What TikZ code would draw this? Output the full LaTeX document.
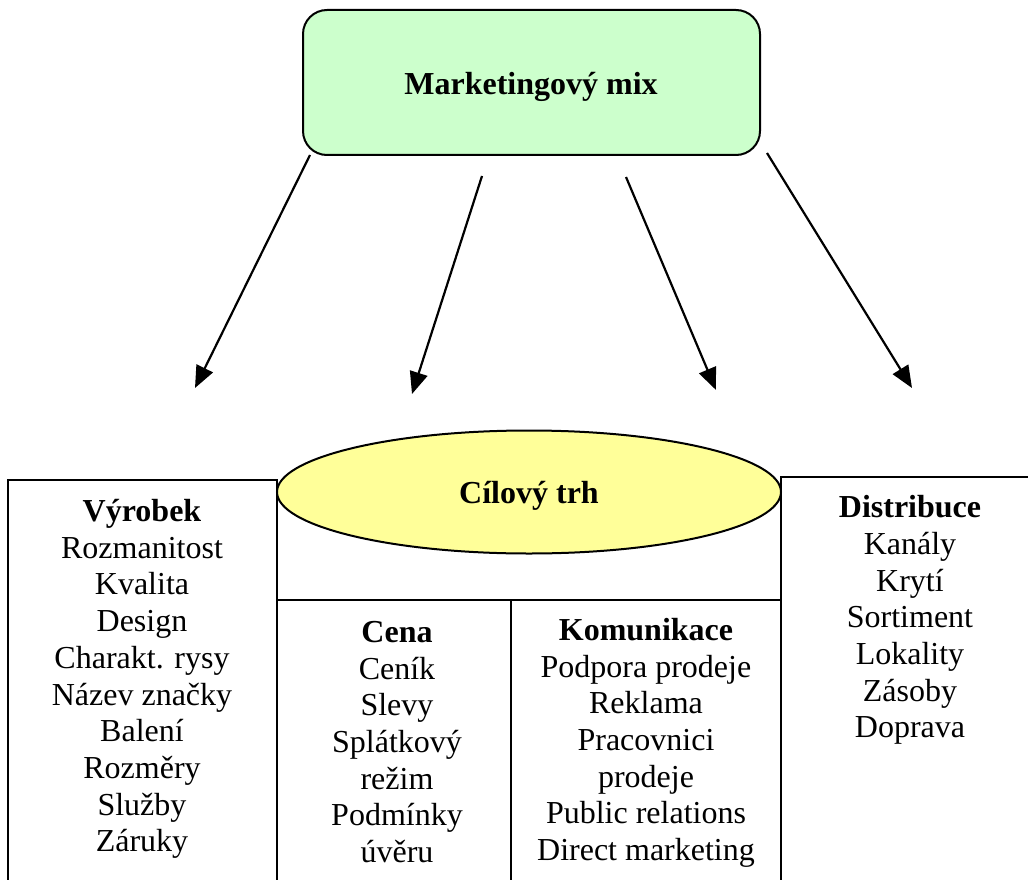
\documentclass[tikz,border=0pt]{standalone}
\usepackage{fontspec}
\setmainfont{Liberation Serif}
\usetikzlibrary{arrows.meta,shapes.geometric}
\definecolor{boxgreen}{HTML}{CCFFCC}
\definecolor{ellyellow}{HTML}{FFFF99}
\begin{document}
\begin{tikzpicture}[x=1pt,y=-1pt,
  frame/.style={line width=2pt,black},
  arr/.style={line width=2.2pt,-{Triangle[length=22pt,width=18pt]}},
  coltext/.style={align=center,inner sep=0pt,font=\fontsize{32}{36.67}\selectfont},
  title/.style={inner sep=0pt,font=\fontsize{32}{36.67}\selectfont\bfseries}]
\useasboundingbox (0,0) rectangle (1028,880);
% frames
\draw[frame] (8,882) -- (8,480) -- (277,480) -- (277,882);
\draw[frame] (781,882) -- (781,477) -- (1030,477);
\draw[frame] (277,600) -- (781,600);
\draw[frame] (511,600) -- (511,882);
% top box
\node[draw,line width=2pt,fill=boxgreen,rounded corners=24pt,minimum width=457pt,minimum height=145pt,inner sep=0pt] (mix) at (531.5,82.5) {};
\node[title] (mixlabel) at (531,87) {Marketingový mix};
% ellipse
\node[draw,line width=2pt,fill=ellyellow,ellipse,minimum width=504pt,minimum height=123pt,inner sep=0pt] (trh) at (529,492) {};
\node[title] (trhlabel) at (529,496) {Cílový trh};
% arrows
\coordinate (a1) at (195,388);
\coordinate (a2) at (412,394);
\coordinate (a3) at (716,390);
\coordinate (a4) at (912,388);
\coordinate (s1) at (310,155);
\coordinate (s2) at (482,176);
\coordinate (s3) at (626,177);
\coordinate (s4) at (767,153);
\draw[arr] (s1) -- (a1);
\draw[arr] (s2) -- (a2);
\draw[arr] (s3) -- (a3);
\draw[arr] (s4) -- (a4);
% columns
\node[coltext] (vyrobek) at (142,679) {\textbf{Výrobek}\\Rozmanitost\\Kvalita\\Design\\Charakt. rysy\\Název značky\\Balení\\Rozměry\\Služby\\Záruky};
\node[coltext] (cena) at (397,742) {\textbf{Cena}\\Ceník\\Slevy\\Splátkový\\režim\\Podmínky\\úvěru};
\node[coltext] (komunikace) at (646,743) {\textbf{Komunikace}\\Podpora prodeje\\Reklama\\Pracovnici\\prodeje\\Public relations\\Direct marketing};
\node[coltext] (distribuce) at (910,620) {\textbf{Distribuce}\\Kanály\\Krytí\\Sortiment\\Lokality\\Zásoby\\Doprava};
\end{tikzpicture}
\end{document}
